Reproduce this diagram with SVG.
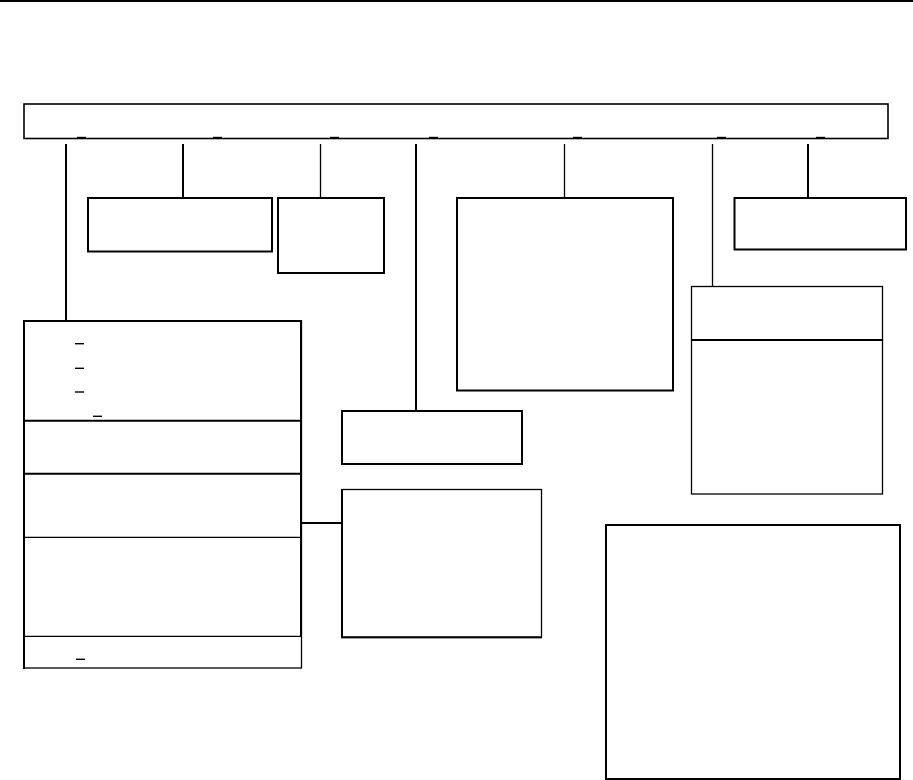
<svg xmlns="http://www.w3.org/2000/svg" width="913" height="780" viewBox="0 0 913 780">
<style>
.box{fill:#fff;stroke:#000;stroke-width:2}
.thin{fill:none;stroke:#000;stroke-width:1.3}
.thick{fill:none;stroke:#000;stroke-width:2}
.mark{stroke:#000;stroke-width:1.4}
</style>
<rect x="0" y="0" width="913" height="780" fill="#fff"/>
<line x1="0" y1="1" x2="913" y2="1" stroke="#000" stroke-width="2"/>
<g id="connectors">
<line class="thick" x1="66" y1="144" x2="66" y2="321"/>
<line class="thick" x1="183" y1="144" x2="183" y2="197"/>
<line class="thin" x1="320.5" y1="144" x2="320.5" y2="197"/>
<line class="thick" x1="416" y1="144" x2="416" y2="411"/>
<line class="thin" x1="564.5" y1="144" x2="564.5" y2="198"/>
<line class="thin" x1="712.5" y1="144" x2="712.5" y2="287"/>
<line class="thick" x1="808" y1="144" x2="808" y2="198"/>
<line class="thick" x1="299" y1="523" x2="342" y2="523"/>
</g>
<g id="top-bar">
<rect x="24" y="104" width="864" height="34.5" fill="#fff" stroke="#000" stroke-width="1.6"/>
<line class="mark" x1="77" y1="137.5" x2="86" y2="137.5"/>
<line class="mark" x1="213" y1="137.5" x2="222" y2="137.5"/>
<line class="mark" x1="330" y1="137.5" x2="339" y2="137.5"/>
<line class="mark" x1="429" y1="137.5" x2="438" y2="137.5"/>
<line class="mark" x1="573" y1="137.5" x2="582" y2="137.5"/>
<line class="mark" x1="717" y1="137.5" x2="726" y2="137.5"/>
<line class="mark" x1="816" y1="137.5" x2="825" y2="137.5"/>
</g>
<g id="node-a"><rect class="box" x="88" y="198" width="184" height="53.5"/></g>
<g id="node-b"><rect class="box" x="278" y="198" width="106" height="75"/></g>
<g id="node-c"><rect class="box" x="457" y="198" width="216" height="192.5"/></g>
<g id="node-d"><rect class="box" x="734.5" y="198" width="171.5" height="51.5"/></g>
<g id="node-e">
<rect x="691.5" y="286.5" width="191" height="207.5" fill="#fff" stroke="#000" stroke-width="1.3"/>
<line class="thick" x1="691.5" y1="340" x2="882.5" y2="340"/>
</g>
<g id="node-f"><rect class="box" x="342" y="411" width="180" height="53"/></g>
<g id="node-g">
<rect x="342" y="489.5" width="199.5" height="148" fill="#fff" stroke="#000" stroke-width="1.3"/>
<line class="thick" x1="342" y1="489" x2="342" y2="638"/>
<line class="thick" x1="341" y1="637.3" x2="542" y2="637.3"/>
</g>
<g id="node-h">
<rect x="24" y="321" width="277.5" height="347" fill="#fff" stroke="#000" stroke-width="1.3"/>
<line class="thick" x1="24" y1="320" x2="24" y2="669"/>
<line class="thick" x1="23" y1="321" x2="302" y2="321"/>
<line class="thick" x1="301" y1="320" x2="301" y2="637"/>
<line class="thick" x1="24" y1="420.7" x2="301" y2="420.7"/>
<line class="thick" x1="24" y1="473.7" x2="301" y2="473.7"/>
<line class="thin" x1="24" y1="537.3" x2="301" y2="537.3"/>
<line class="thin" x1="24" y1="636.3" x2="301" y2="636.3"/>
<line class="mark" x1="75" y1="343.7" x2="84" y2="343.7"/>
<line class="mark" x1="75" y1="368.3" x2="84" y2="368.3"/>
<line class="mark" x1="75" y1="392" x2="84" y2="392"/>
<line class="mark" x1="93" y1="416.3" x2="102" y2="416.3"/>
<line class="mark" x1="76" y1="659.3" x2="85" y2="659.3"/>
</g>
<g id="node-i"><rect class="box" x="606" y="525" width="294" height="254"/></g>
</svg>
